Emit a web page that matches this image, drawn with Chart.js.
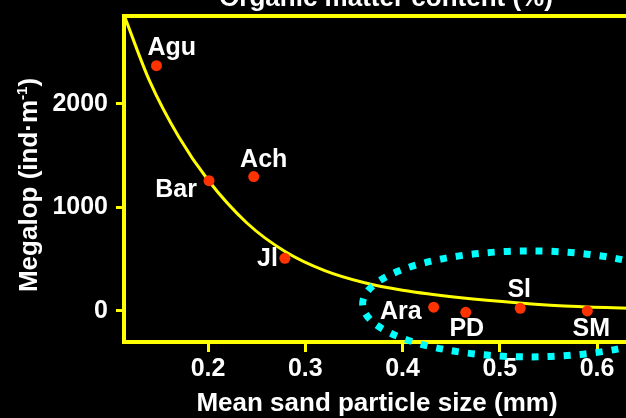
<!DOCTYPE html>
<html>
<head>
<meta charset="utf-8">
<script src="https://cdn.jsdelivr.net/npm/chart.js@4.4.1/dist/chart.umd.min.js"></script>
<style>
    html, body { margin: 0; padding: 0; background: #000; overflow: hidden; }
    #wrap { width: 626px; height: 418px; overflow: hidden; }
</style>
</head>
<body>
<div id="wrap"><canvas id="megalop_chart" width="660" height="418"></canvas></div>
<script>

// beaches, mean sand particle size (mm) and megalop density (ind/m)
const sites     = ['Agu', 'Bar', 'Ach', 'Jl', 'Ara', 'PD', 'Sl', 'SM'];
const sand_size = [0.147, 0.201, 0.247, 0.279, 0.432, 0.465, 0.521, 0.590];
const megalop   = [2370, 1259, 1298, 509, 36, -13, 26, 0];

// fitted curve, points
const fit_size  = [0.114, 0.14, 0.17, 0.20, 0.24, 0.28, 0.32, 0.36, 0.40, 0.46, 0.52, 0.58, 0.66];
const fit_value = [2850, 2220, 1680, 1265, 850, 570, 390, 275, 200, 128, 78, 42, 18];

const x_ticks = [0.2, 0.3, 0.4, 0.5, 0.6];
const y_ticks = [0, 1000, 2000];

const YELLOW = '#ffff00';
const FONT   = '"Liberation Sans", Arial, Helvetica, sans-serif';

// label offsets from the dot (px) and alignment
const label_pos = {
    'Agu': [-9, -11, 'left'],
    'Bar': [-12, 16, 'right'],
    'Ach': [10, -10, 'center'],
    'Jl':  [-7, 8, 'right'],
    'Ara': [-12, 12, 'right'],
    'PD':  [1, 24, 'center'],
    'Sl':  [-1, -11, 'center'],
    'SM':  [4, 25, 'center']
};

// dotted ring round the coarse sand beaches (data units)
const ring = { x: 0.531, y: 68, rx: 0.172, ry: 512 };

const decor = {
    id: 'decor',
    afterDatasetsDraw( chart ){
        const ctx = chart.ctx;
        const area = chart.chartArea;
        const xs = chart.scales.x, ys = chart.scales.y;

        ctx.save();
        // top frame line
        ctx.strokeStyle = YELLOW;
        ctx.lineWidth = 4;
        ctx.beginPath();
        ctx.moveTo( area.left - 2, area.top );
        ctx.lineTo( chart.width, area.top );
        ctx.stroke();

        // site labels
        ctx.fillStyle = '#ffffff';
        ctx.font = 'bold 25px ' + FONT;
        ctx.textBaseline = 'alphabetic';
        sites.forEach( ( s, i ) => {
            const p = label_pos[s];
            ctx.textAlign = p[2];
            ctx.fillText( s, xs.getPixelForValue( sand_size[i] ) + p[0], ys.getPixelForValue( megalop[i] ) + p[1] );
        });

        // ring
        const cx = xs.getPixelForValue( ring.x );
        const cy = ys.getPixelForValue( ring.y );
        const rx = xs.getPixelForValue( ring.x + ring.rx ) - cx;
        const ry = cy - ys.getPixelForValue( ring.y + ring.ry );
        ctx.strokeStyle = '#00ffff';
        ctx.lineWidth = 7;
        ctx.lineCap = 'butt';
        ctx.setLineDash( [7, 9] );
        ctx.beginPath();
        ctx.ellipse( cx, cy, rx, ry, 0, 0, Math.PI * 2 );
        ctx.stroke();
        ctx.restore();
    },
    afterDraw( chart ){
        const ctx = chart.ctx;
        ctx.save();
        ctx.fillStyle = '#ffffff';
        ctx.textBaseline = 'alphabetic';

        // top title, mostly cut off
        ctx.font = 'bold 26px ' + FONT;
        ctx.textAlign = 'center';
        ctx.fillText( 'Organic matter content (%)', 386, 6 );

        // x title
        ctx.fillText( 'Mean sand particle size (mm)', 377, 411 );

        // y title with superscript
        const main = 'Megalop (ind\u00b7m';
        const sup = '-1';
        ctx.font = 'bold 26px ' + FONT;
        const w1 = ctx.measureText( main ).width;
        const w3 = ctx.measureText( ')' ).width;
        ctx.font = 'bold 15px ' + FONT;
        const w2 = ctx.measureText( sup ).width;
        const total = w1 + w2 + w3;

        ctx.translate( 37, 185 );
        ctx.rotate( -Math.PI / 2 );
        ctx.textAlign = 'left';
        let x0 = -total / 2;
        ctx.font = 'bold 26px ' + FONT;
        ctx.fillText( main, x0, 0 );
        ctx.font = 'bold 15px ' + FONT;
        ctx.fillText( sup, x0 + w1, -10 );
        ctx.font = 'bold 26px ' + FONT;
        ctx.fillText( ')', x0 + w1 + w2, 0 );
        ctx.restore();
    }
};

const tick_font = { family: FONT, size: 25, weight: 'bold' };

const config = {
    data: {
        datasets: [
            {
                type: 'scatter',
                label: 'Megalop',
                data: sand_size.map( ( v, i ) => ({ x: v, y: megalop[i] }) ),
                backgroundColor: 'rgb(255, 51, 0)',
                borderWidth: 0,
                pointRadius: 5.5,
                order: 1
            },
            {
                type: 'line',
                label: 'Fit',
                data: fit_size.map( ( v, i ) => ({ x: v, y: fit_value[i] }) ),
                borderColor: YELLOW,
                borderWidth: 3,
                pointRadius: 0,
                cubicInterpolationMode: 'monotone',
                fill: false,
                order: 2
            }
        ]
    },
    options: {
        responsive: false,
        animation: false,
        layout: { padding: { top: 16, right: 12, left: 0, bottom: 0 } },
        scales: {
            x: {
                type: 'linear',
                min: 0.1136,
                max: 0.6524,
                afterBuildTicks: s => { s.ticks = x_ticks.map( v => ({ value: v }) ); },
                afterFit: s => { s.height = 76; s.paddingLeft = 0; s.paddingRight = 0; },
                grid: { drawOnChartArea: false, drawTicks: true, tickLength: 10, tickColor: YELLOW, tickWidth: 3 },
                border: { display: true, color: YELLOW, width: 4 },
                ticks: { color: '#ffffff', font: tick_font, padding: 2, callback: v => v.toFixed( 1 ) }
            },
            y: {
                type: 'linear',
                min: -300,
                max: 2850,
                afterBuildTicks: s => { s.ticks = y_ticks.map( v => ({ value: v }) ); },
                afterFit: s => { s.width = 124; s.paddingTop = 0; s.paddingBottom = 0; },
                grid: { drawOnChartArea: false, drawTicks: true, tickLength: 8, tickColor: YELLOW, tickWidth: 3 },
                border: { display: true, color: YELLOW, width: 4 },
                ticks: { color: '#ffffff', font: tick_font, padding: 8, callback: v => String( v ) }
            }
        },
        plugins: {
            legend: { display: false },
            tooltip: { enabled: false }
        }
    },
    plugins: [ decor ]
};

const megalop_chart = new Chart( document.getElementById( 'megalop_chart' ), config );

</script>
</body>
</html>
